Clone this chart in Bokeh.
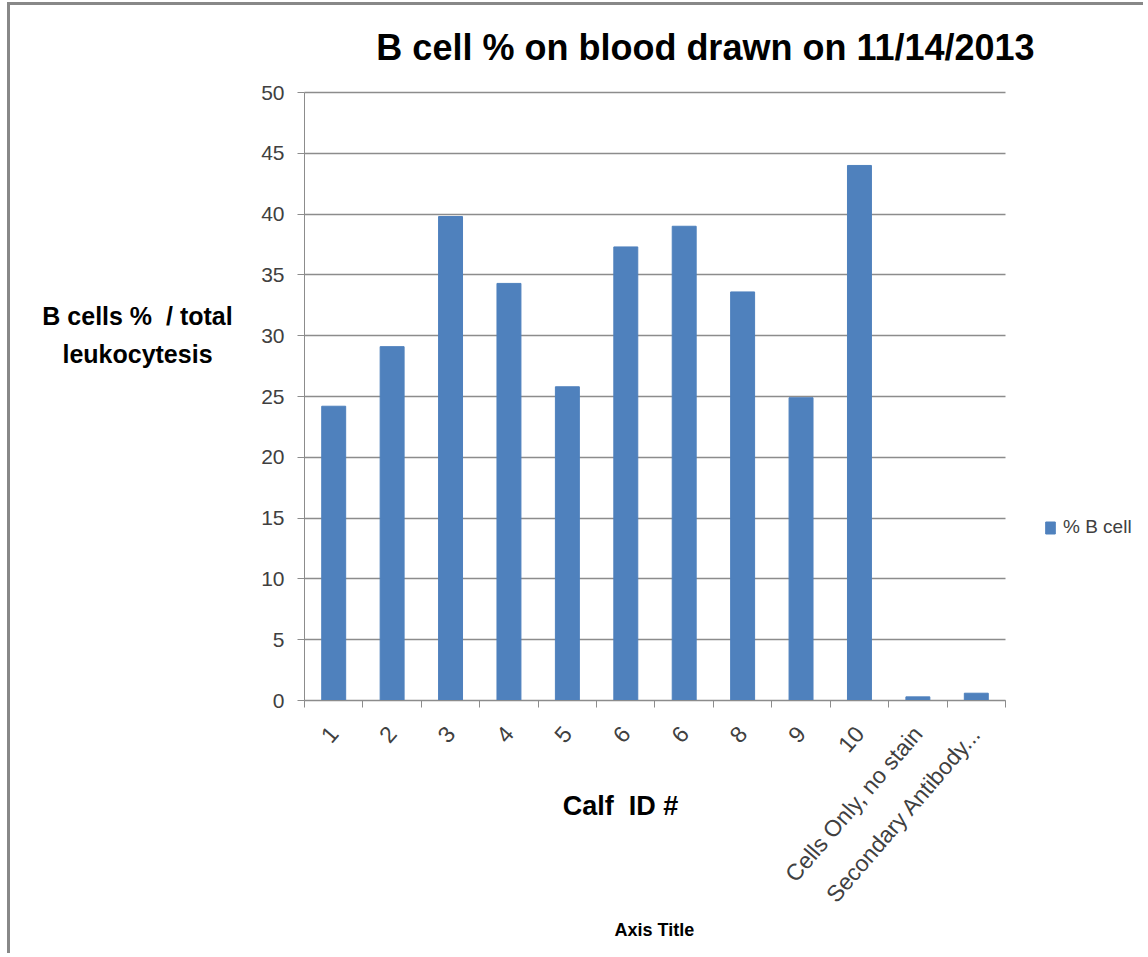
from math import atan2
from bokeh.plotting import figure
from bokeh.models import (Range1d, FixedTicker, Label, Legend, LegendItem,
                          ColumnDataSource, Grid)
from bokeh.embed import file_html
from bokeh.resources import INLINE

# ---- data -------------------------------------------------------------
calf_ids = ["1", "2", "3", "4", "5", "6", "6", "8", "9", "10",
            "Cells Only, no stain", "Secondary Antibody..."]
b_cell_pct = [24.2, 29.1, 39.8, 34.3, 25.8, 37.3, 39.0, 33.6, 24.9, 44.0, 0.3, 0.6]
y_ticks = [0, 5, 10, 15, 20, 25, 30, 35, 40, 45, 50]
series_name = "% B cell"
chart_title = "B cell % on blood drawn on 11/14/2013"
y_title_lines = ["B cells %\u00a0 / total", "leukocytesis"]
x_title = "Calf\u00a0 ID #"
extra_axis_title = "Axis Title"

# ---- styling ----------------------------------------------------------
FONT = "'Liberation Sans Narrow', 'Liberation Sans', Arial, sans-serif"
BAR = "#4f81bd"
GRID = "#8c8c8c"
TXT = "#404040"

n = len(calf_ids)
centers = [i + 0.5 for i in range(n)]
bounds = [i for i in range(n + 1)]

W, H = 1136, 951
# whole canvas is the frame; axes are placed at fixed data locations
x_lo = -5.0328
x_hi = x_lo + W / 58.4167
y_hi = 57.155
y_lo = y_hi - H / 12.16

p = figure(width=W, height=H,
           x_range=Range1d(x_lo, x_hi), y_range=Range1d(y_lo, y_hi),
           output_backend="svg", toolbar_location=None, min_border=0)
p.styles = {"margin-left": "7px", "margin-top": "2px",
            "border-left": "3px solid #888888", "border-top": "3px solid #888888"}
p.outline_line_color = None
p.background_fill_color = "white"
p.border_fill_color = "white"

src = ColumnDataSource(dict(x=centers, top=b_cell_pct, name=calf_ids))

# grid lines limited to the category span
p.xgrid.visible = False
p.ygrid.visible = False
if "cross_bounds" in Grid.properties():
    g = Grid(dimension=1, ticker=FixedTicker(ticks=y_ticks), bounds=(0, 50),
             cross_bounds=(0, n), grid_line_color=GRID, grid_line_width=1.3)
    p.add_layout(g)
else:
    p.segment(x0=[0] * len(y_ticks), x1=[n] * len(y_ticks), y0=y_ticks, y1=y_ticks,
              line_color=GRID, line_width=1.3)

r = p.vbar(x="x", top="top", width=0.41, source=src,
           fill_color=BAR, line_color=BAR)

# y axis
ya = p.yaxis[0]
ya.fixed_location = 0
ya.bounds = (0, 50)
ya.ticker = FixedTicker(ticks=y_ticks)
ya.axis_line_color = GRID
ya.major_tick_line_color = GRID
ya.major_tick_out = 7
ya.major_tick_in = 0
ya.minor_tick_line_color = None
ya.major_label_standoff = 13
ya.major_label_text_font = FONT
ya.major_label_text_font_size = "21px"
ya.major_label_text_color = TXT

# x axis: labels at centres, ticks at category boundaries
xa = p.xaxis[0]
xa.fixed_location = 0
xa.bounds = (0, n)
xa.ticker = FixedTicker(ticks=centers, minor_ticks=bounds)
xa.major_label_overrides = {c: lab for c, lab in zip(centers, calf_ids)}
xa.major_tick_out = 0
xa.major_tick_in = 0
xa.major_tick_line_color = None
xa.minor_tick_out = 7
xa.minor_tick_in = 0
xa.minor_tick_line_color = GRID
xa.axis_line_color = GRID
xa.major_label_orientation = atan2(172, 148)
xa.major_label_standoff = 22
xa.major_label_text_font = FONT
xa.major_label_text_font_size = "23px"
xa.major_label_text_color = TXT

# titles
def add_text(x, y, text, size):
    p.add_layout(Label(x=x, y=y, text=text, text_align="center",
                       text_baseline="middle", text_font=FONT,
                       text_font_style="bold", text_font_size=size,
                       text_color="black"))

add_text(6.864, 53.66, chart_title, "36px")
for line, yy in zip(y_title_lines, [31.58, 28.49]):
    add_text(-2.859, yy, line, "25px")
add_text(5.409, -8.635, x_title, "27px")
add_text(5.99, -18.87, extra_axis_title, "18px")

# legend
legend = Legend(items=[LegendItem(label=series_name, renderers=[r])],
                location=(1034, 418), padding=0, margin=0, spacing=0,
                glyph_width=12, glyph_height=15, label_height=15, label_standoff=7,
                label_text_font=FONT, label_text_font_size="19px",
                label_text_color=TXT, border_line_color=None,
                background_fill_alpha=0)
p.add_layout(legend)

open("out.html", "w").write(file_html(p, INLINE))
